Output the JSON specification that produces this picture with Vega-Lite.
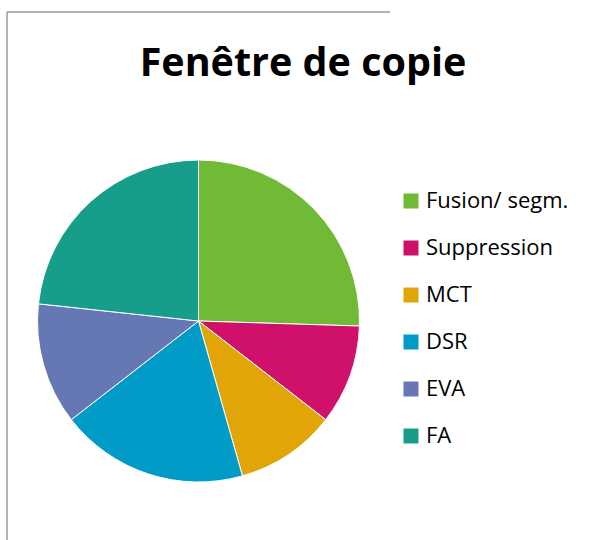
{
  "$schema": "https://vega.github.io/schema/vega-lite/v6.json",
  "width": 383,
  "height": 618,
  "autosize": {"type": "none"},
  "padding": {"left": 7, "top": 12, "right": 204, "bottom": 0},
  "background": "white",
  "view": {"stroke": "#999999", "strokeWidth": 1.5, "strokeDash": [383, 1001, 618, 0]},
  "title": {
    "text": "Fenêtre de copie",
    "font": "Open Sans",
    "fontSize": 39.5,
    "fontWeight": "bold",
    "color": "#000000",
    "anchor": "middle",
    "frame": "group",
    "orient": "top",
    "offset": -72,
    "dx": 104.5
  },
  "data": {
    "values": [
      {"idx": 1, "categorie": "Fusion/ segm.", "valeur": 25.5},
      {"idx": 2, "categorie": "Suppression", "valeur": 10.0},
      {"idx": 3, "categorie": "MCT", "valeur": 10.1},
      {"idx": 4, "categorie": "DSR", "valeur": 18.9},
      {"idx": 5, "categorie": "EVA", "valeur": 12.2},
      {"idx": 6, "categorie": "FA", "valeur": 23.3}
    ]
  },
  "mark": {"type": "arc", "outerRadius": 161, "stroke": "white", "strokeWidth": 1},
  "encoding": {
    "theta": {"field": "valeur", "type": "quantitative", "stack": true},
    "order": {"field": "idx", "type": "quantitative"},
    "color": {
      "field": "categorie",
      "type": "nominal",
      "scale": {
        "domain": ["Fusion/ segm.", "Suppression", "MCT", "DSR", "EVA", "FA"],
        "range": ["#71BA36", "#D0116B", "#E2A507", "#009BC6", "#6578B4", "#179E8A"]
      },
      "legend": {
        "orient": "none",
        "legendX": 393,
        "legendY": 178,
        "title": null,
        "symbolType": "square",
        "symbolSize": 225,
        "symbolStrokeWidth": 0,
        "symbolOpacity": 1,
        "labelFont": "Open Sans",
        "labelFontSize": 22,
        "labelColor": "#000000",
        "labelOffset": 4,
        "rowPadding": 25,
        "labelLimit": 300
      }
    }
  }
}
